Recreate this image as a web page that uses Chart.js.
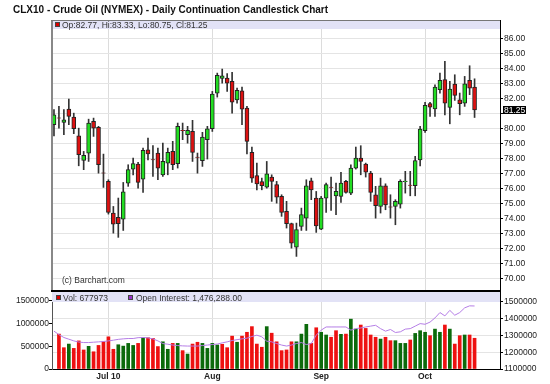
<!DOCTYPE html>
<html>
<head>
<meta charset="utf-8">
<script src="https://cdn.jsdelivr.net/npm/chart.js@4.4.0/dist/chart.umd.min.js"></script>
<style>
  html, body { margin: 0; padding: 0; background: #fff; }
  #wrap { position: relative; width: 550px; height: 384px; overflow: hidden; }
  canvas { position: absolute; left: 0; }
  #price { top: 0; }
  #vol { top: 292px; }
  #title { position: absolute; left: 13px; top: 4px; line-height: 12px; font: bold 10px "Liberation Sans", Arial, sans-serif; color: #111; white-space: nowrap; }
</style>
</head>
<body>
<div id="wrap">
  <canvas id="price" width="550" height="292" style="width:550px;height:292px"></canvas>
  <canvas id="vol" width="550" height="92" style="width:550px;height:92px"></canvas>
  <div id="title">CLX10 - Crude Oil (NYMEX) - Daily Continuation Candlestick Chart</div>
</div>
<script>
const FONT = '"Liberation Sans", Arial, Helvetica, sans-serif';

// daily bars, Jun 16 2010 .. Oct 15 2010 (index = trading day)
const opens = [80.27, 80.72, 80.42, 81.31, 80.78, 79.53, 77.89, 78.38, 80.49, 80.09,
  77.06, 76.49, 74.38, 74.09, 73.98, 76.38, 77.31, 77.64, 76.64, 78.60,
  77.95, 78.38, 76.93, 77.71, 78.49, 77.67, 79.89, 79.60, 79.82, 78.11,
  77.87, 79.27, 80.00, 82.38, 83.36, 83.38, 83.16, 81.93, 82.53, 81.38,
  78.42, 76.87, 76.47, 76.11, 76.78, 76.27, 75.49, 74.49, 73.67, 72.11,
  73.49, 74.04, 76.53, 75.38, 73.31, 75.38, 76.11, 75.53, 75.49, 76.49,
  75.71, 77.38, 78.04, 77.64, 77.04, 75.60, 74.82, 76.20, 74.80, 74.82,
  74.98, 76.48, 76.24, 76.20, 77.93, 79.87, 81.67, 81.33, 82.60, 83.27,
  81.42, 82.98, 81.93, 81.71, 83.22, 82.77];
const highs = [81.27, 81.49, 81.27, 81.98, 81.04, 80.04, 78.49, 80.64, 80.71, 80.16,
  78.31, 76.60, 74.82, 75.38, 76.42, 77.60, 78.04, 77.76, 78.71, 79.38,
  78.87, 78.71, 79.04, 78.71, 79.16, 80.38, 80.38, 80.16, 80.56, 78.38,
  79.76, 80.16, 82.49, 83.71, 83.98, 83.67, 83.76, 82.71, 82.78, 81.49,
  78.78, 77.71, 76.71, 77.82, 76.93, 76.49, 75.60, 75.16, 73.71, 73.71,
  74.71, 76.60, 76.71, 75.82, 75.49, 76.38, 76.78, 76.38, 77.09, 76.56,
  77.60, 78.78, 78.87, 77.71, 77.16, 76.16, 76.71, 76.33, 75.60, 75.27,
  76.60, 77.16, 77.16, 78.16, 80.16, 81.76, 81.76, 82.93, 83.71, 84.49,
  83.16, 83.60, 82.38, 83.49, 84.20, 83.33];
const lows = [79.53, 80.04, 79.60, 80.27, 79.67, 77.53, 77.27, 77.82, 79.49, 77.04,
  76.09, 74.31, 73.04, 72.76, 73.22, 76.16, 76.93, 76.04, 75.76, 77.93,
  76.82, 76.60, 76.82, 76.93, 77.27, 77.38, 79.27, 79.04, 77.82, 77.04,
  77.49, 77.98, 79.82, 82.11, 83.04, 82.49, 81.04, 81.71, 80.27, 78.33,
  76.42, 75.93, 75.93, 76.04, 75.16, 75.04, 74.16, 73.38, 72.04, 71.49,
  73.22, 73.22, 75.27, 73.09, 73.27, 74.42, 74.56, 74.27, 75.09, 75.71,
  75.60, 77.31, 76.93, 76.78, 75.16, 74.04, 74.38, 74.60, 74.04, 73.60,
  74.71, 75.71, 75.53, 75.53, 77.53, 79.76, 80.82, 80.82, 82.38, 80.93,
  80.33, 81.89, 80.93, 81.49, 82.27, 80.75];
const closes = [80.93, 80.70, 80.60, 80.82, 80.00, 78.27, 78.22, 80.38, 80.04, 77.60,
  77.04, 74.42, 73.64, 73.67, 75.80, 77.27, 77.67, 76.42, 78.56, 78.33,
  77.92, 77.38, 77.82, 78.42, 77.60, 80.16, 79.87, 79.90, 78.42, 78.09,
  79.44, 80.00, 82.31, 83.56, 83.53, 83.04, 81.78, 82.56, 81.31, 79.16,
  76.71, 76.33, 76.20, 77.00, 76.49, 75.44, 74.42, 73.67, 72.38, 73.27,
  74.27, 76.20, 75.93, 73.53, 75.38, 76.27, 76.09, 75.82, 76.38, 75.76,
  77.38, 78.04, 77.82, 77.11, 75.76, 74.87, 76.20, 74.93, 74.77, 75.16,
  76.49, 76.51, 76.22, 77.87, 79.98, 81.56, 81.44, 82.78, 83.22, 81.71,
  82.64, 82.22, 81.67, 83.00, 82.71, 81.25];
const volumes = [null, 770000, 470000, 550000, 455000, 620000, 420000, 500000, 380000, 520000,
  600000, 710000, 435000, 535000, 505000, 565000, 520000, 565000, 690000, 690000,
  675000, 495000, 600000, 435000, 565000, 565000, 405000, 330000, 550000, 590000,
  565000, 455000, 565000, 530000, 545000, 470000, 725000, 590000, 725000, 810000,
  935000, 550000, 480000, 935000, 790000, 600000, 405000, 420000, 600000, 600000,
  770000, 985000, 565000, 910000, 810000, 750000, 700000, 845000, 765000, 770000,
  1100000, 880000, 970000, 895000, 750000, 700000, 660000, 700000, 625000, 625000,
  565000, 565000, 640000, 785000, 845000, 810000, 735000, 880000, 810000, 970000,
  880000, 550000, 735000, 750000, 750000, 677973];
const openInterest = [1326000, 1305000, 1288000, 1278000, 1268000, 1261000, 1258000, 1258000, 1260000, 1262000,
  1264000, 1268000, 1272000, 1277000, 1280000, 1282000, 1282000, 1287000, 1288000, 1286000,
  1280000, 1268000, 1252000, 1248000, 1243000, 1240000, 1238000, 1237000, 1237000, 1237000,
  1240000, 1243000, 1246000, 1249000, 1256000, 1262000, 1270000, 1275000, 1280000, 1284000,
  1294000, 1302000, 1292000, 1266000, 1262000, 1252000, 1243000, 1237000, 1243000, 1252000,
  1258000, 1246000, 1252000, 1302000, 1332000, 1351000, 1351000, 1351000, 1351000, 1351000,
  1332000, 1341000, 1345000, 1351000, 1356000, 1361000, 1341000, 1326000, 1336000, 1318000,
  1322000, 1338000, 1341000, 1356000, 1371000, 1367000, 1380000, 1405000, 1437000, 1417000,
  1450000, 1421000, 1437000, 1465000, 1477000, 1476288];

const monthTicks = [11, 32, 54, 75];
const monthLabels = ['Jul 10', 'Aug', 'Sep', 'Oct'];
const priceTicks = [70, 71, 72, 73, 74, 75, 76, 77, 78, 79, 80, 81, 82, 83, 84, 85, 86];
const volTicks = [0, 500000, 1000000, 1500000];
const oiTicks = [1100000, 1200000, 1300000, 1400000, 1500000];

const last = closes.length - 1;
const idx = closes.map((_, i) => i);
const bodyColors = idx.map(i => closes[i] >= opens[i] ? '#22dd22' : '#dd1111');
// volume bars follow close vs previous close
const volColors = idx.map(i => i > 0 && closes[i] >= closes[i - 1] ? '#0b6a0b' : '#ee1111');

function xScale(showLabels) {
  return {
    type: 'linear', min: -0.4, max: 90.14, offset: false,
    afterBuildTicks: s => { s.ticks = monthTicks.map(v => ({ value: v })); },
    afterFit: s => { s.height = showLabels ? 15 : 0; s.paddingLeft = 0; s.paddingRight = 0; },
    grid: { color: '#dcdcdc', offset: false, drawTicks: false },
    border: { display: showLabels, color: '#000' },
    ticks: {
      display: showLabels, autoSkip: false, maxRotation: 0, padding: 3, color: '#222',
      font: { family: FONT, size: 8.5, weight: 'bold' },
      callback: v => monthLabels[monthTicks.indexOf(v)]
    }
  };
}

function band(ctx, a, h) {
  ctx.fillStyle = '#e2e2f6';
  ctx.fillRect(a.left, a.top, a.right - a.left, h);
}

function swatch(ctx, x, y, color) {
  ctx.fillStyle = color;
  ctx.fillRect(x, y, 5, 5);
  ctx.strokeStyle = '#444';
  ctx.lineWidth = 1;
  ctx.strokeRect(x + 0.5, y + 0.5, 4, 4);
}

const pricePanel = {
  id: 'pricePanel',
  beforeDatasetsDraw(chart) {
    const { ctx, chartArea: a } = chart;
    ctx.save();
    band(ctx, a, 9);
    swatch(ctx, a.left + 3, a.top + 2, '#dd0000');
    ctx.fillStyle = '#333';
    ctx.font = `8.5px ${FONT}`;
    ctx.fillText(`Op:${opens[last].toFixed(2)}, Hi:${highs[last].toFixed(2)}, Lo:${lows[last].toFixed(2)}, Cl:${closes[last].toFixed(2)}`, a.left + 10, a.top + 8);
    ctx.fillText('(c) Barchart.com', a.left + 10, a.bottom - 7);
    ctx.restore();
  },
  afterDraw(chart) {
    const { ctx, chartArea: a } = chart;
    ctx.save();
    ctx.fillStyle = '#888';
    ctx.fillRect(a.left - 1, a.top, 2, a.bottom - a.top);
    ctx.fillStyle = '#777';
    ctx.fillRect(a.left - 1, a.top, a.right - a.left + 1, 1);
    ctx.fillStyle = '#000';
    ctx.fillRect(a.left - 1, a.bottom, a.right - a.left + 2, 2);
    // last price marker on the axis
    const y = chart.scales.y.getPixelForValue(closes[last]);
    ctx.fillStyle = '#000';
    ctx.fillRect(a.right + 3, y - 4, 23, 8);
    ctx.fillStyle = '#fff';
    ctx.font = `8.5px ${FONT}`;
    ctx.textBaseline = 'middle';
    ctx.fillText(closes[last].toFixed(2), a.right + 4, y + 0.5);
    ctx.restore();
  }
};

const volPanel = {
  id: 'volPanel',
  beforeDatasetsDraw(chart) {
    const { ctx, chartArea: a } = chart;
    ctx.save();
    band(ctx, a, 10);
    ctx.font = `8.5px ${FONT}`;
    swatch(ctx, a.left + 4, a.top + 3, '#dd0000');
    ctx.fillStyle = '#333';
    ctx.fillText(`Vol: ${volumes[last]}`, a.left + 11, a.top + 8.5);
    swatch(ctx, a.left + 76, a.top + 3, '#9933cc');
    ctx.fillStyle = '#333';
    const oi = openInterest[last].toLocaleString('en-US', { minimumFractionDigits: 2 });
    ctx.fillText(`Open Interest: ${oi}`, a.left + 84, a.top + 8.5);
    ctx.restore();
  }
};

new Chart(document.getElementById('price'), {
  type: 'bar',
  data: {
    datasets: [
      {
        label: 'body',
        data: idx.map(i => ({ x: i, y: [opens[i], closes[i]] })),
        backgroundColor: bodyColors,
        borderColor: '#222',
        borderWidth: 1,
        borderSkipped: false,
        grouped: false,
        barPercentage: 1,
        categoryPercentage: 1,
        maxBarThickness: 4,
        order: 0
      },
      {
        label: 'wick',
        data: idx.map(i => ({ x: i, y: [lows[i], highs[i]] })),
        backgroundColor: '#333',
        borderWidth: 0,
        grouped: false,
        barPercentage: 1,
        categoryPercentage: 1,
        maxBarThickness: 1,
        order: 1
      }
    ]
  },
  options: {
    responsive: false,
    animation: false,
    events: [],
    layout: { padding: { left: 52, top: 20, right: 0, bottom: 2 } },
    plugins: { legend: { display: false }, tooltip: { enabled: false } },
    scales: {
      x: xScale(false),
      y: {
        type: 'linear', position: 'right', min: 69.25, max: 87.25, beginAtZero: false,
        afterBuildTicks: s => { s.ticks = priceTicks.map(v => ({ value: v })); },
        afterFit: s => { s.width = 50; s.paddingTop = 0; s.paddingBottom = 0; },
        grid: { color: '#e4e4e4', tickColor: '#000', tickLength: 3 },
        border: { color: '#000' },
        ticks: {
          padding: 1, color: '#222', font: { family: FONT, size: 8.5 },
          callback: v => Math.abs(v - closes[last]) < 0.6 ? '' : v.toFixed(2)
        }
      }
    }
  },
  plugins: [pricePanel]
});

new Chart(document.getElementById('vol'), {
  type: 'bar',
  data: {
    datasets: [
      {
        type: 'line',
        label: 'Open Interest',
        data: idx.map(i => ({ x: i, y: openInterest[i] })),
        yAxisID: 'yoi',
        borderColor: '#b57ee6',
        borderWidth: 1,
        pointRadius: 0,
        fill: false,
        tension: 0,
        order: 0
      },
      {
        label: 'Vol',
        data: idx.map(i => ({ x: i, y: volumes[i] })),
        yAxisID: 'yv',
        backgroundColor: volColors,
        borderWidth: 0,
        barThickness: 3,
        order: 1
      }
    ]
  },
  options: {
    responsive: false,
    animation: false,
    events: [],
    layout: { padding: 0 },
    plugins: { legend: { display: false }, tooltip: { enabled: false } },
    scales: {
      x: xScale(true),
      yv: {
        type: 'linear', position: 'left', min: 0, max: 1698500, beginAtZero: false,
        afterBuildTicks: s => { s.ticks = volTicks.map(v => ({ value: v })); },
        afterFit: s => { s.width = 52; s.paddingTop = 0; s.paddingBottom = 0; },
        grid: { drawOnChartArea: false, tickColor: '#000', tickLength: 3 },
        border: { color: '#555' },
        ticks: { padding: 0, color: '#222', font: { family: FONT, size: 8.5 }, callback: v => String(v) }
      },
      yoi: {
        type: 'linear', position: 'right', min: 1100000, max: 1559700, beginAtZero: false,
        afterBuildTicks: s => { s.ticks = oiTicks.map(v => ({ value: v })); },
        afterFit: s => { s.width = 50; s.paddingTop = 0; s.paddingBottom = 0; },
        grid: { color: '#e4e4e4', tickColor: '#000', tickLength: 3 },
        border: { color: '#000' },
        ticks: { padding: 1, color: '#222', font: { family: FONT, size: 8.5 }, callback: v => String(v) }
      }
    }
  },
  plugins: [volPanel]
});
</script>
</body>
</html>
